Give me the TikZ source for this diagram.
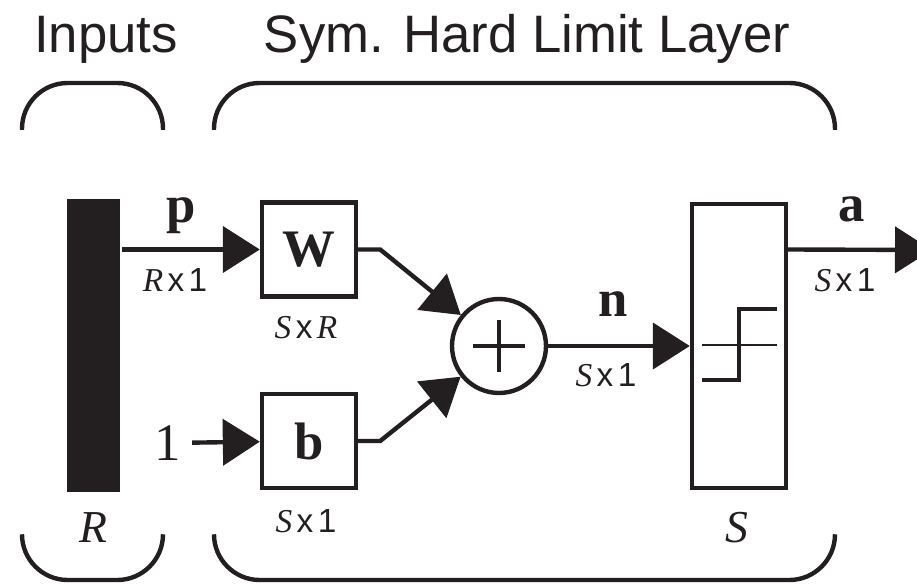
\documentclass[tikz,border=0pt]{standalone}
\usepackage{fontspec}
\setmainfont{Liberation Serif}
\setsansfont{Liberation Sans}
\usepackage{tikz}
\usetikzlibrary{arrows.meta}

\definecolor{ink}{HTML}{231F20}
\newcommand{\dimtxt}[2]{#1\kern2.5pt{\sffamily x}\kern2.5pt#2}

\begin{document}
\begin{tikzpicture}[x=0.02cm, y=-0.02cm, color=ink, line width=2.5pt,
    block_node/.style={draw, rectangle, minimum width=1.88cm, minimum height=1.88cm, inner sep=0pt},
    sum_node/.style={draw, circle, minimum size=1.88cm, inner sep=0pt},
    big_label/.style={font=\fontsize{30}{36}\selectfont, inner sep=0pt, anchor=base},
    title_label/.style={font=\sffamily\fontsize{30}{36}\selectfont, inner sep=0pt, anchor=base},
    dim_label/.style={font=\fontsize{19}{22}\selectfont, inner sep=0pt, anchor=base},
    flow/.style={-{Triangle[length=0.74cm, width=0.92cm]}}]

    \useasboundingbox (0,0) rectangle (917,584);

    \node[title_label] (t1) at (106,53) {Inputs};
    \node[title_label] (t2) at (527,53) {Sym. Hard Limit Layer};

    \node[fill=ink, minimum width=1.06cm, minimum height=5.86cm, inner sep=0pt] (1) at (93.5,345.5) {};
    \node[block_node, font=\fontsize{30}{36}\selectfont] (2) at (309,249.5) {\textbf{W}};
    \node[block_node, font=\fontsize{30}{36}\selectfont] (3) at (309,441) {\textbf{b}};
    \node[sum_node] (4) at (499,346) {};
    \node[block_node, minimum height=5.68cm] (5) at (739,346) {};
    \coordinate (6) at (932,250);
    \node[font=\fontsize{30}{36}\selectfont, inner sep=5pt] (7) at (168,443) {1};

    \draw[flow] (1.east |- 2.west) -- (2.west);
    \draw[flow] (7) -- (3);
    \draw[flow] (2.east) -- ++(22,0) -- (4);
    \draw[flow] (3.east) -- ++(22,0) -- (4);
    \draw[flow] (4) -- (5);
    \draw[flow] (5.east |- 2.east) -- (6);

    % plus sign and step symbol
    \draw[line width=2.2pt] (4.center) ++(-26,0) -- ++(52,0) (4.center) ++(0,-26) -- ++(0,52);
    \draw[line width=1.1pt] (5.center) ++(-37,-1) -- ++(75,0);
    \draw (5.center) ++(-37,34) -- ++(37,0) -- ++(0,-71) -- ++(38,0);

    \node[big_label] (8) at (181,223) {\textbf{p}};
    \node[big_label] (9) at (613,317) {\textbf{n}};
    \node[big_label] (10) at (852,222) {\textbf{a}};
    \node[big_label, font=\fontsize{26}{30}\selectfont] (11) at (93,542) {\textit{R}};
    \node[big_label, font=\fontsize{26}{30}\selectfont] (12) at (737,542) {\textit{S}};

    \node[dim_label] (13) at (175,292) {\dimtxt{\textit{R}}{\sffamily 1}};
    \node[dim_label] (14) at (306,339) {\dimtxt{\textit{S}}{\textit{R}}};
    \node[dim_label] (15) at (306,532) {\dimtxt{\textit{S}}{\sffamily 1}};
    \node[dim_label] (16) at (606,387) {\dimtxt{\textit{S}}{\sffamily 1}};
    \node[dim_label] (17) at (845,292) {\dimtxt{\textit{S}}{\sffamily 1}};

    % brackets
    \draw[rounded corners=26pt] (22,130) -- (22,83) -- (163,83) -- (163,130);
    \draw[rounded corners=26pt] (214,130) -- (214,83) -- (835,83) -- (835,130);
    \draw[rounded corners=26pt] (22,537) -- (22,580) -- (163,580) -- (163,537);
    \draw[rounded corners=26pt] (214,537) -- (214,580) -- (835,580) -- (835,537);

\end{tikzpicture}
\end{document}
